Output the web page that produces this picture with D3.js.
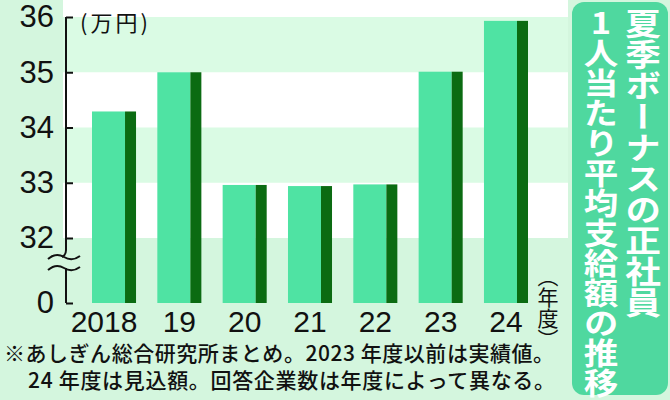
<!DOCTYPE html>
<html>
<head>
<meta charset="utf-8">
<script src="https://cdn.jsdelivr.net/npm/d3@7"></script>
<style>
  body { margin: 0; background: #d4f6de; }
</style>
</head>
<body>
<div id="container"></div>
<script>
// bonus per regular employee, 10k yen
let years = ["2018", "19", "20", "21", "22", "23", "24"];
let bonus = [34.29, 35.0, 32.96, 32.94, 32.97, 35.01, 35.93];
let yTicks = [0, 32, 33, 34, 35, 36];
let stripes = [[35, 36], [33, 34]];

let titleLines = ["1人当たり平均支給額の推移", "夏季ボーナスの正社員"];
let noteLines = ["※あしぎん総合研究所まとめ。2023 年度以前は実績値。", "24 年度は見込額。回答企業数は年度によって異なる。"];
let unitLabel = "(万円)";
let yearLabel = "（年度）";

let w = 670;
let h = 400;

let jpFont = "'Noto Sans CJK JP', 'Noto Sans', sans-serif";
let numFont = "'Liberation Sans', Arial, sans-serif";

let viz = d3.select("#container")
  .append("svg")
    .attr("width", w)
    .attr("height", h)
    .style("display", "block")
    .style("background-color", "#d4f6de")
;

// broken axis: 0 at the bottom, then 32..36
let yScale = d3.scaleLinear().domain([0, 32, 36]).range([303, 238, 17]);
let xScale = d3.scaleBand().domain(years).range([92, 528]).paddingInner(0.326).paddingOuter(0);
let bw = xScale.bandwidth();

// plot background and stripes
viz.append("rect")
    .attr("x", 63)
    .attr("y", 0)
    .attr("width", 505)
    .attr("height", yScale(32))
    .attr("fill", "white")
;

viz.selectAll(".stripe").data(stripes).enter()
  .append("rect")
    .classed("stripe", true)
    .attr("x", 63)
    .attr("y", d => yScale(d[1]))
    .attr("width", 505)
    .attr("height", d => yScale(d[0]) - yScale(d[1]))
    .attr("fill", "#dafbe4")
;

// bars
let bars = viz.selectAll(".bar").data(bonus).enter()
  .append("g")
    .classed("bar", true)
    .attr("transform", (d, i) => "translate(" + xScale(years[i]) + ",0)")
;

bars.append("rect")
    .attr("x", 0)
    .attr("y", d => yScale(d))
    .attr("width", bw * 0.75)
    .attr("height", d => yScale(0) - yScale(d))
    .attr("fill", "#4fe3a3")
;

bars.append("rect")
    .attr("x", bw * 0.75)
    .attr("y", d => yScale(d))
    .attr("width", bw * 0.25)
    .attr("height", d => yScale(0) - yScale(d))
    .attr("fill", "#0b6b12")
;

// y axis
let axisX = 66;
let yAxis = d3.axisLeft(yScale)
    .tickValues(yTicks)
    .tickSizeInner(-7)
    .tickSizeOuter(0)
    .tickPadding(12)
    .tickFormat(d3.format("d"))
;

let axisG = viz.append("g")
    .attr("transform", "translate(" + axisX + ",0)")
    .call(yAxis)
;
axisG.select(".domain").remove();
axisG.selectAll(".tick line").attr("stroke", "#111").attr("stroke-width", 2);
axisG.selectAll(".tick text")
    .attr("fill", "#111")
    .style("font-family", numFont)
    .style("font-size", "31px")
;

let axisLine = viz.append("g")
    .attr("fill", "none")
    .attr("stroke", "#111")
    .attr("stroke-width", 2)
;
axisLine.append("path").attr("d", "M" + axisX + "," + yScale(36) + "V250q0,5 -4,7");
axisLine.append("path").attr("d", "M48,259q8,-7 16,-2t16,-1");
axisLine.append("path").attr("d", "M48,270q8,-7 16,-2t16,-1");
axisLine.append("path").attr("d", "M" + axisX + ",268V" + yScale(0));

viz.append("text")
    .text(unitLabel)
    .attr("x", 80)
    .attr("y", 31)
    .attr("textLength", 68)
    .attr("fill", "#111")
    .style("font-family", jpFont)
    .style("font-size", "22px")
;

// x labels
viz.selectAll(".xlabel").data(years).enter()
  .append("text")
    .classed("xlabel", true)
    .text(d => d)
    .attr("x", (d, i) => xScale(d) + bw / 2 - (i == 0 ? 10 : 0))
    .attr("y", 332)
    .attr("text-anchor", "middle")
    .attr("fill", "#111")
    .style("font-family", numFont)
    .style("font-size", "30px")
;

viz.append("text")
    .text(yearLabel)
    .attr("x", 548)
    .attr("y", 266)
    .attr("fill", "#111")
    .style("writing-mode", "vertical-rl")
    .style("font-family", jpFont)
    .style("font-size", "21px")
;

// footnote
let noteX = [4, 28];
let noteY = [361, 388];
let noteLen = [550, 527];
viz.selectAll(".note").data(noteLines).enter()
  .append("text")
    .classed("note", true)
    .text(d => d)
    .attr("x", (d, i) => noteX[i])
    .attr("y", (d, i) => noteY[i])
    .attr("textLength", (d, i) => noteLen[i])
    .attr("fill", "#111")
    .style("font-family", jpFont)
    .style("font-weight", "500")
    .style("font-size", "21px")
;

// title box
viz.append("rect")
    .attr("x", 572)
    .attr("y", 2)
    .attr("width", 96)
    .attr("height", 393)
    .attr("rx", 12)
    .attr("fill", "#4fd89f")
;

// title glyphs in the paper are wider than tall
let titleX = [601, 643];
let titleSize = [30, 31];
viz.selectAll(".title").data(titleLines).enter()
  .append("text")
    .classed("title", true)
    .text(d => d)
    .attr("x", 0)
    .attr("y", 8)
    .attr("transform", (d, i) => "translate(" + titleX[i] + ",0) scale(1.15,1)")
    .attr("fill", "white")
    .style("writing-mode", "vertical-rl")
    .style("text-orientation", "upright")
    .style("font-family", jpFont)
    .style("font-weight", "bold")
    .style("font-size", (d, i) => titleSize[i] + "px")
;
</script>
</body>
</html>
